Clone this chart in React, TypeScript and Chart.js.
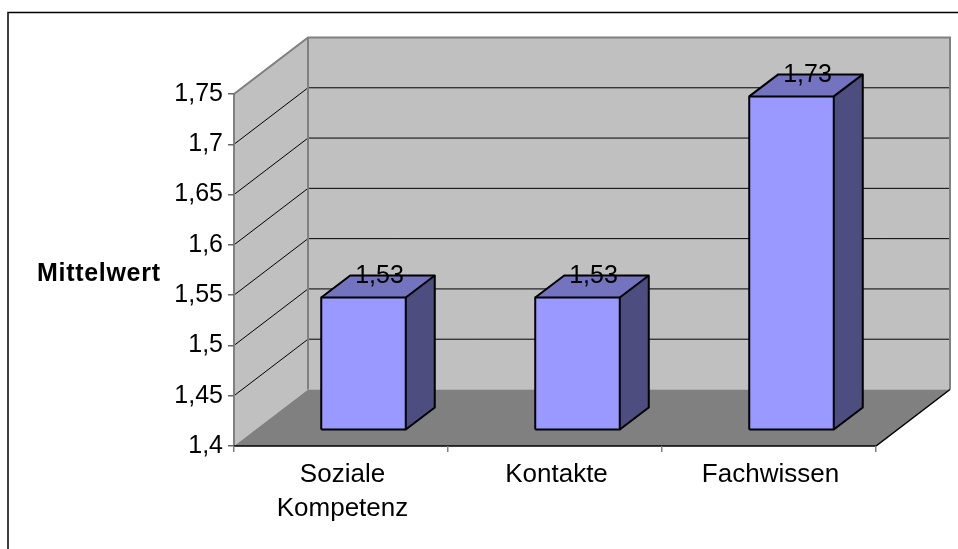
import React, { useEffect, useRef } from "react";
import { Chart, registerables } from "chart.js";

Chart.register(...registerables);

const categories = [["Soziale", "Kompetenz"], "Kontakte", "Fachwissen"];
const meanValues = [1.532, 1.532, 1.732];
const axisTitle = "Mittelwert";
const FONT = "'Liberation Sans', Arial, sans-serif";

const DEPTH_X = 74;
const DEPTH_Y = -56.5;
const BAR_SHIFT_X = 22.5;
const BAR_SHIFT_Y = -15.7;
const BAR_DEPTH_X = 29;
const BAR_DEPTH_Y = -22;

const poly = (ctx: CanvasRenderingContext2D, pts: number[][], fill: string) => {
  ctx.beginPath();
  pts.forEach(([x, y], i) => (i ? ctx.lineTo(x, y) : ctx.moveTo(x, y)));
  ctx.closePath();
  ctx.fillStyle = fill;
  ctx.fill();
};
const line = (ctx: CanvasRenderingContext2D, pts: number[][], color: string, w: number) => {
  ctx.beginPath();
  pts.forEach(([x, y], i) => (i ? ctx.lineTo(x, y) : ctx.moveTo(x, y)));
  ctx.strokeStyle = color;
  ctx.lineWidth = w;
  ctx.stroke();
};

const scene3d = {
  id: "scene3d",
  beforeDraw(chart: any) {
    const { ctx, chartArea: a, scales, width, height } = chart;
    const { left: l, right: r, top: t, bottom: b } = a;
    const dx = DEPTH_X, dy = DEPTH_Y;
    ctx.save();
    ctx.fillStyle = "#fff";
    ctx.fillRect(0, 0, width, height);
    line(ctx, [[8, height], [8, 12.5], [width, 12.5]], "#000", 1.5);
    poly(ctx, [[l + dx, t + dy], [r + dx, t + dy], [r + dx, b + dy], [l + dx, b + dy]], "#C0C0C0");
    poly(ctx, [[l, t], [l + dx, t + dy], [l + dx, b + dy], [l, b]], "#C0C0C0");
    poly(ctx, [[l, b], [r, b], [r + dx, b + dy], [l + dx, b + dy]], "#808080");
    const values = scales.y.ticks.map((tk: any) => tk.value);
    values.forEach((v: number) => {
      const y = scales.y.getPixelForValue(v);
      if (v > scales.y.min && v < scales.y.max) {
        line(ctx, [[l, y], [l + dx, y + dy], [r + dx, y + dy]], "#000", 1);
      }
    });
    line(ctx, [[l, b], [l, t], [l + dx, t + dy], [r + dx, t + dy], [r + dx, b + dy]], "#808080", 2);
    line(ctx, [[l + dx, t + dy], [l + dx, b + dy]], "#808080", 2);
    line(ctx, [[l, b], [r, b], [r + dx, b + dy]], "#000", 1.5);
    ctx.restore();
  },
  beforeDatasetDraw(chart: any) {
    chart.ctx.save();
    chart.ctx.translate(BAR_SHIFT_X, BAR_SHIFT_Y);
  },
  afterDatasetDraw(chart: any) {
    chart.ctx.restore();
  },
  afterDatasetsDraw(chart: any) {
    const { ctx } = chart;
    const meta = chart.getDatasetMeta(0);
    const dx = BAR_DEPTH_X, dy = BAR_DEPTH_Y;
    ctx.save();
    ctx.lineJoin = "round";
    meta.data.forEach((el: any, i: number) => {
      const half = el.width / 2;
      const x0 = el.x - half + BAR_SHIFT_X;
      const x1 = el.x + half + BAR_SHIFT_X;
      const yt = el.y + BAR_SHIFT_Y;
      const yb = el.base + BAR_SHIFT_Y;
      poly(ctx, [[x0, yt], [x1, yt], [x1 + dx, yt + dy], [x0 + dx, yt + dy]], "#7373BF");
      poly(ctx, [[x1, yt], [x1 + dx, yt + dy], [x1 + dx, yb + dy], [x1, yb]], "#4D4D80");
      line(ctx, [[x0, yb], [x0, yt], [x1, yt], [x1, yb], [x0, yb]], "#000", 2);
      line(ctx, [[x0, yt], [x0 + dx, yt + dy], [x1 + dx, yt + dy], [x1 + dx, yb + dy], [x1, yb]], "#000", 2);
      line(ctx, [[x1, yt], [x1 + dx, yt + dy]], "#000", 2);
      ctx.fillStyle = "#000";
      ctx.font = `25px ${FONT}`;
      ctx.textAlign = "center";
      ctx.textBaseline = "middle";
      const label = meanValues[i].toFixed(2).replace(".", ",");
      ctx.fillText(label, el.x + BAR_SHIFT_X + 16, el.y + BAR_SHIFT_Y - 21);
    });
    ctx.fillStyle = "#000";
    ctx.font = `bold 25px ${FONT}`;
    (ctx as any).letterSpacing = "0.7px";
    ctx.textAlign = "left";
    ctx.textBaseline = "middle";
    ctx.fillText(axisTitle, 37, 274);
    (ctx as any).letterSpacing = "0px";
    ctx.restore();
  },
};

export default function App() {
  const ref = useRef<HTMLCanvasElement>(null);
  useEffect(() => {
    const chart = new Chart(ref.current!, {
      type: "bar",
      data: {
        labels: categories as any,
        datasets: [
          {
            label: axisTitle,
            data: meanValues,
            base: 1.4,
            backgroundColor: "#9999FF",
            borderColor: "#000",
            borderWidth: 0,
            barPercentage: 1,
            categoryPercentage: 0.395,
          },
        ],
      },
      options: {
        responsive: false,
        animation: false,
        layout: { padding: { top: 94, right: 82, left: 0, bottom: 0 } },
        plugins: { legend: { display: false }, tooltip: { enabled: false }, title: { display: false } },
        scales: {
          x: {
            afterFit: (s: any) => { s.height = 103; },
            border: { display: false },
            grid: { drawOnChartArea: false, color: "#808080", tickLength: 6, lineWidth: 1.5 },
            ticks: {
              color: "#000",
              maxRotation: 0,
              padding: 6,
              labelOffset: 1.5,
              font: { family: FONT, size: 26, lineHeight: 1.31 },
            },
          },
          y: {
            min: 1.4,
            max: 1.75,
            afterFit: (s: any) => { s.width = 234; },
            border: { display: false },
            grid: { drawOnChartArea: false, color: "#666", tickLength: 6, lineWidth: 1.5 },
            ticks: {
              stepSize: 0.05,
              color: "#000",
              padding: 5,
              font: { family: FONT, size: 25 },
              callback: (v: any) => String(Number(Number(v).toFixed(2))).replace(".", ","),
            },
          },
        },
      },
      plugins: [scene3d],
    } as any);
    return () => chart.destroy();
  }, []);
  return (
    <div style={{ position: "absolute", left: 0, top: 0, width: 958, height: 549 }}>
      <canvas ref={ref} width={958} height={549} style={{ display: "block" }} />
    </div>
  );
}
